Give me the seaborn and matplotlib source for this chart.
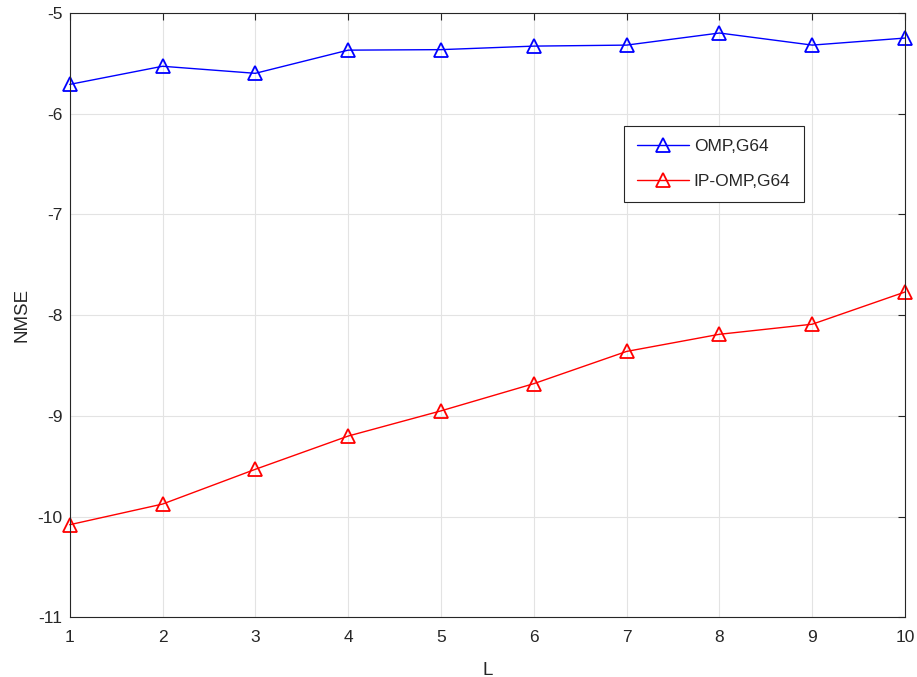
import pandas as pd
import matplotlib
matplotlib.use('Agg')
import matplotlib.pyplot as plt
import seaborn as sns

# Values
L = [1, 2, 3, 4, 5, 6, 7, 8, 9, 10]
omp_g64 = [-5.71, -5.53, -5.60, -5.37, -5.365, -5.33, -5.32, -5.20, -5.32, -5.25]
ipomp_g64 = [-10.08, -9.875, -9.53, -9.20, -8.95, -8.68, -8.36, -8.19, -8.09, -7.77]
series_names = ['OMP,G64', 'IP-OMP,G64']
series_colors = ['#0000ff', '#ff0000']

data = pd.DataFrame({
    'L': L * 2,
    'NMSE': omp_g64 + ipomp_g64,
    'method': [series_names[0]] * len(L) + [series_names[1]] * len(L),
})

sns.set_style('white')
plt.rcParams['font.family'] = ['Liberation Sans', 'DejaVu Sans']
plt.rcParams['axes.unicode_minus'] = False

fig = plt.figure(figsize=(9.17, 6.77), dpi=100)
ax = fig.add_axes([0.076, 0.088, 0.911, 0.893])

sns.lineplot(data=data, x='L', y='NMSE', hue='method', palette=series_colors,
             marker='^', markersize=10, markerfacecolor='none', markeredgewidth=1.3,
             linewidth=1.0, ax=ax)
# marker edges same colour as the lines, and not cut at the axes edge
for line, c in zip(ax.lines, series_colors):
    line.set_markeredgecolor(c)
    line.set_clip_on(False)

ax.set_xlim(1, 10)
ax.set_ylim(-11, -5)
ax.set_xticks(L)
ax.set_yticks([-11, -10, -9, -8, -7, -6, -5])
ax.grid(True, color='#e3e3e3', linewidth=0.8)
ax.tick_params(direction='in', length=5, width=0.8, colors='#262626',
               top=True, right=True, labelsize=12.5)
ax.tick_params(axis='x', pad=9)
ax.tick_params(axis='y', pad=5)
for s in ax.spines.values():
    s.set_color('#262626')
    s.set_linewidth(0.8)
ax.set_xlabel('L', fontsize=13.5, color='#262626', labelpad=12)
ax.set_ylabel('NMSE', fontsize=13.5, color='#262626', labelpad=5)

leg = ax.legend(loc='upper left', bbox_to_anchor=(0.664, 0.8126), borderaxespad=0,
                fancybox=False, framealpha=1, edgecolor='#262626', fontsize=12.5,
                handlelength=3.0, borderpad=0.75, labelspacing=1.15, handletextpad=0.25)
leg.get_frame().set_linewidth(0.8)
for h, c in zip(leg.legend_handles, series_colors):
    h.set_markeredgecolor(c)
    h.set_markerfacecolor('none')

fig.savefig('out.png', dpi=100)
